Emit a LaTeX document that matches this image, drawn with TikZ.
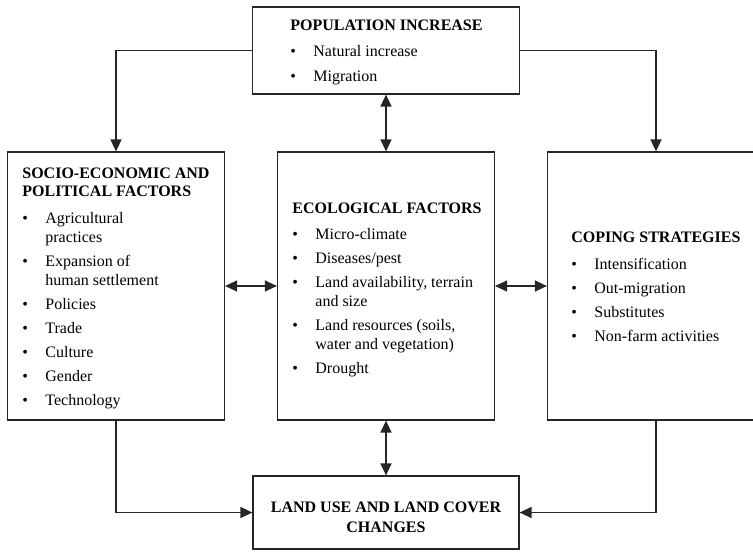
\documentclass[tikz,border=0pt]{standalone}
\usepackage{fontspec}
\setmainfont{Liberation Serif}
\usetikzlibrary{arrows.meta}
\newcommand{\bul}{\makebox[11.5pt][l]{\textbullet}}
\newcommand{\ind}{\hspace*{11.5pt}}

\begin{document}
\begin{tikzpicture}[x=0.5pt, y=-0.5pt,
    box/.style={draw=black!85, line width=0.6pt, inner sep=0pt, minimum width=108.5pt, minimum height=134pt},
    txt/.style={anchor=base west, inner sep=0pt, font=\fontsize{8}{9.5}\selectfont},
    arr/.style={draw=black!85, line width=0.7pt, -{Triangle[length=6pt,width=5.5pt]}},
    darr/.style={arr, {Triangle[length=6pt,width=5.5pt]}-{Triangle[length=6pt,width=5.5pt]}}]
    \useasboundingbox (0,0) rectangle (753,551);

    % 枠の描画
    \node[box, minimum width=133.5pt, minimum height=43.5pt] (popinc) at (386,50.5) {};
    \node[box] (socio) at (116,286) {};
    \node[box] (ecol) at (386,286) {};
    \node[box] (coping) at (656,286) {};
    \node[box, minimum width=133pt, minimum height=36.5pt] (landuse) at (386,512.5) {};

    % 人口増加
    \node[txt] (popinctxt) at (290,31) {\begin{tabular}[t]{@{}l@{}}
        \bfseries POPULATION INCREASE\\[3.5pt]
        \bul Natural increase\\[3pt]
        \bul Migration
    \end{tabular}};

    % 社会経済・政治的要因
    \node[txt] (sociotxt) at (22,178) {\begin{tabular}[t]{@{}l@{}}
        \bfseries SOCIO-ECONOMIC AND\\[-0.5pt]
        \bfseries POLITICAL FACTORS\\[4pt]
        \bul Agricultural\\
        \ind practices\\[2.5pt]
        \bul Expansion of\\
        \ind human settlement\\[2.5pt]
        \bul Policies\\[2.5pt]
        \bul Trade\\[2.5pt]
        \bul Culture\\[2.5pt]
        \bul Gender\\[2.5pt]
        \bul Technology
    \end{tabular}};

    % 生態的要因
    \node[txt] (ecoltxt) at (292,213) {\begin{tabular}[t]{@{}l@{}}
        \bfseries ECOLOGICAL FACTORS\\[3.5pt]
        \bul Micro-climate\\[2.5pt]
        \bul Diseases/pest\\[2.5pt]
        \bul Land availability, terrain\\
        \ind and size\\[2.5pt]
        \bul Land resources (soils,\\
        \ind water and vegetation)\\[2.5pt]
        \bul Drought
    \end{tabular}};

    % 対処戦略
    \node[txt] (copingtxt) at (571,242) {\begin{tabular}[t]{@{}l@{}}
        \bfseries COPING STRATEGIES\\[4pt]
        \bul Intensification\\[2.5pt]
        \bul Out-migration\\[2.5pt]
        \bul Substitutes\\[2.5pt]
        \bul Non-farm activities
    \end{tabular}};

    % 土地利用・土地被覆の変化
    \node[inner sep=0pt, anchor=base, font=\fontsize{8}{9.5}\selectfont\bfseries] (landusetxt) at (386,512) {\begin{tabular}[t]{@{}c@{}}
        LAND USE AND LAND COVER\\[0.5pt]
        CHANGES
    \end{tabular}};

    % 矢印
    \draw[arr] (popinc.west) -| (socio.north);
    \draw[arr] (popinc.east) -| (coping.north);
    \draw[darr] (popinc.south) -- (ecol.north);
    \draw[darr] (socio.east) -- (ecol.west);
    \draw[darr] (ecol.east) -- (coping.west);
    \draw[darr] (ecol.south) -- (landuse.north);
    \draw[arr] (socio.south) |- (landuse.west);
    \draw[arr] (coping.south) |- (landuse.east);
\end{tikzpicture}
\end{document}
